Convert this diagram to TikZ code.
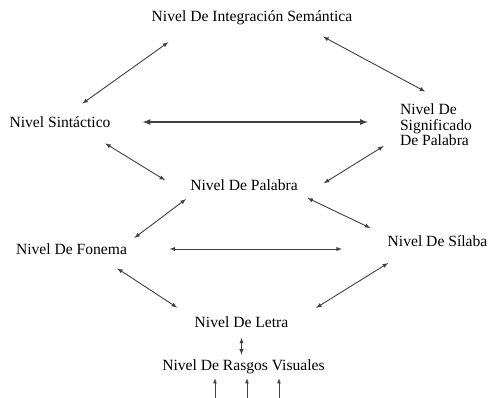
\documentclass[tikz,border=0pt]{standalone}
\usepackage{fontspec}
\setmainfont{Liberation Serif}
\newfontfamily\levelfont{Liberation Serif}

\begin{document}
\begin{tikzpicture}[x=1pt,y=-1pt,>=latex]
    \tikzstyle{every node}+=[inner sep=0pt,font=\levelfont\fontsize{15.6}{15.5}\selectfont]
    \tikzset{link/.style={<->,draw=black!75,line width=0.9pt},
             uplink/.style={->,draw=black!75,line width=0.8pt}}
    \useasboundingbox (0,0) rectangle (491,398);
    \draw (252,18) node (integ) {Nivel De Integración Semántica};
    \draw (60,122) node (sint) {Nivel Sintáctico};
    \draw (436,125) node [align=left] (signif) {Nivel De\\Significado\\De Palabra};
    \draw (244,185) node (pal) {Nivel De Palabra};
    \draw (71.5,249) node (fon) {Nivel De Fonema};
    \draw (437.5,241) node (sil) {Nivel De Sílaba};
    \draw (241.5,322) node (letra) {Nivel De Letra};
    \draw (243.5,367) node (rasgos) {Nivel De Rasgos Visuales};
    \coordinate (v1) at (215,398);
    \coordinate (v2) at (247,398);
    \coordinate (v3) at (279,398);
    % upper levels
    \draw [link,shorten <=29pt,shorten >=22pt] ([xshift=-60pt]integ.south) -- ([xshift=4.5pt]sint.north);
    \draw [link,shorten <=24pt,shorten >=26pt] ([xshift=50pt]integ.south) -- ([xshift=12pt]signif.north);
    \draw [link,line width=1.6pt,shorten <=32pt,shorten >=32pt] (sint.east) -- (sint.east -| signif.west);
    \draw [link,shorten <=30pt,shorten >=20pt] ([xshift=19.7pt]sint.south) -- ([xshift=-8pt]pal.south west);
    \draw [link,shorten <=19pt,shorten >=14pt] ([yshift=-11pt]signif.west) -- ([xshift=14pt]pal.south east);
    % lower levels
    \draw [link,shorten <=14pt,shorten >=9pt] ([xshift=-46.8pt]pal.south) -- (fon.north east);
    \draw [link,shorten <=17pt,shorten >=17pt] ([xshift=-5.7pt]pal.south east) -- ([xshift=-1.8pt]sil.north west);
    \draw [link,shorten <=42.5pt,shorten >=45.5pt] (fon.east) -- (fon.east -| sil.west);
    \draw [link,shorten <=25pt,shorten >=16pt] ([xshift=24.8pt]fon.south) -- ([xshift=-4pt]letra.north west);
    \draw [link,shorten <=31pt,shorten >=16pt] ([xshift=-23pt]sil.south) -- ([xshift=14pt]letra.north east);
    \draw [link,shorten <=10pt,shorten >=5pt] (letra.south) -- (letra.south |- rasgos.north);
    % visual input
    \draw [uplink,shorten >=4pt] (v1) -- (v1 |- rasgos.south);
    \draw [uplink,shorten >=4pt] (v2) -- (v2 |- rasgos.south);
    \draw [uplink,shorten >=4pt] (v3) -- (v3 |- rasgos.south);
\end{tikzpicture}
\end{document}
